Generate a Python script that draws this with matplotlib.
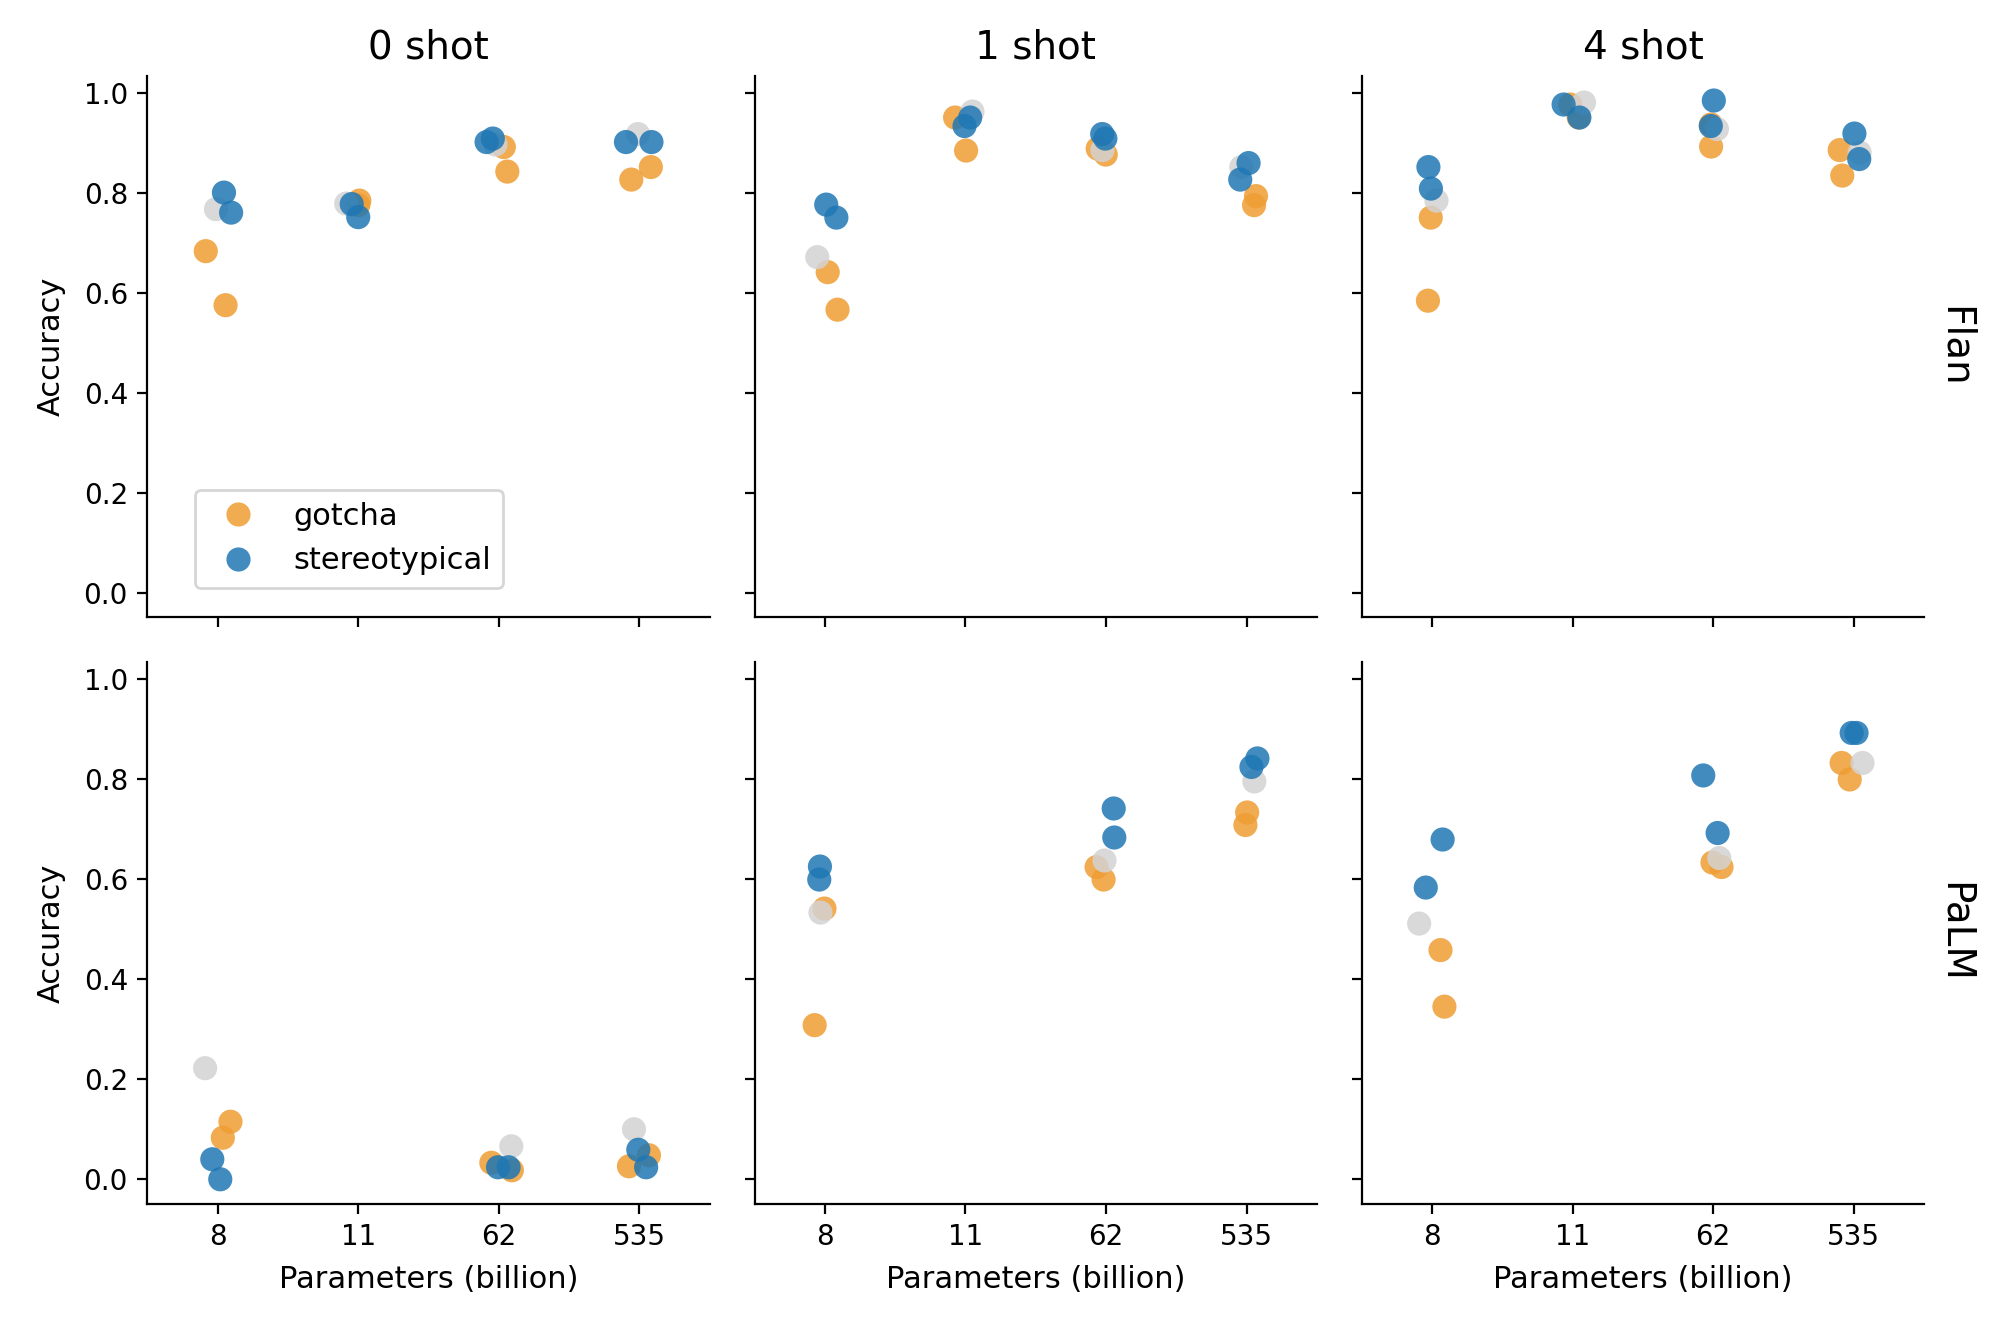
import numpy as np
import pandas as pd
import matplotlib
matplotlib.use("Agg")
import matplotlib.pyplot as plt
from matplotlib.lines import Line2D
import seaborn as sns

# model sizes on the x axis (billion parameters)
sizes = ["8", "11", "62", "535"]
shots = [0, 1, 4]
models = ["Flan", "PaLM"]
hues = ["gotcha", "neutral", "stereotypical"]

# accuracy values, [shot][size] -> list of points
flan_gotcha = [
    [[0.683, 0.575], [0.784, 0.775], [0.891, 0.842], [0.851, 0.826]],
    [[0.641, 0.566], [0.950, 0.884], [0.888, 0.876], [0.793, 0.775]],
    [[0.750, 0.584], [0.950, 0.976], [0.936, 0.892], [0.885, 0.834]],
]
flan_neutral = [
    [[0.767], [0.778], [0.896], [0.917]],
    [[0.671], [0.962], [0.885], [0.851]],
    [[0.784], [0.980], [0.927], [0.880]],
]
flan_stereo = [
    [[0.800, 0.760], [0.777, 0.751], [0.901, 0.908], [0.901, 0.901]],
    [[0.776, 0.750], [0.950, 0.933], [0.908, 0.917], [0.859, 0.826]],
    [[0.851, 0.808], [0.976, 0.950], [0.984, 0.933], [0.918, 0.867]],
]
palm_gotcha = [
    [[0.115, 0.083], [], [0.033, 0.018], [0.048, 0.026]],
    [[0.541, 0.308], [], [0.624, 0.599], [0.733, 0.708]],
    [[0.458, 0.345], [], [0.633, 0.624], [0.832, 0.799]],
]
palm_neutral = [
    [[0.222], [], [0.066], [0.100]],
    [[0.533], [], [0.637], [0.795]],
    [[0.511], [], [0.642], [0.832]],
]
palm_stereo = [
    [[0.040, 0.000], [], [0.024, 0.024], [0.059, 0.024]],
    [[0.625, 0.599], [], [0.741, 0.683], [0.841, 0.824]],
    [[0.679, 0.583], [], [0.807, 0.692], [0.892, 0.892]],
]

series = {
    "Flan": [flan_gotcha, flan_neutral, flan_stereo],
    "PaLM": [palm_gotcha, palm_neutral, palm_stereo],
}

rows = []
for m in models:
    for i, s in enumerate(shots):
        for j, size in enumerate(sizes):
            for h, vals in zip(hues, series[m]):
                for v in vals[i][j]:
                    rows.append({"model": m, "shot": s, "size": size,
                                 "type": h, "accuracy": v})
df = pd.DataFrame(rows)

palette = {"gotcha": "#EF9D33", "neutral": "lightgrey", "stereotypical": "#1f77b4"}
alpha = 0.85

np.random.seed(7)
fig, axes = plt.subplots(2, 3, figsize=(10, 6.67), dpi=200)
fig.subplots_adjust(left=0.0737, right=0.962, top=0.9434, bottom=0.0976,
                    wspace=0.08, hspace=0.082)

for r, m in enumerate(models):
    for c, s in enumerate(shots):
        ax = axes[r, c]
        sub = df[(df["model"] == m) & (df["shot"] == s)]
        sns.stripplot(data=sub, x="size", y="accuracy", hue="type",
                      order=sizes, hue_order=hues, palette=palette,
                      jitter=0.1, size=8.7, alpha=alpha, linewidth=0,
                      legend=False, ax=ax)
        ax.set_xlim(-0.5, 3.5)
        ax.set_ylim(-0.049, 1.034)
        ax.set_yticks([0.0, 0.2, 0.4, 0.6, 0.8, 1.0])
        ax.spines["top"].set_visible(False)
        ax.spines["right"].set_visible(False)
        ax.tick_params(labelsize=10)
        ax.set_xlabel("")
        ax.set_ylabel("")
        if r == 0:
            ax.set_title(f"{s} shot", fontsize=14)
            ax.tick_params(labelbottom=False)
        else:
            ax.set_xlabel("Parameters (billion)", fontsize=11, labelpad=5)
        if c == 0:
            ax.set_ylabel("Accuracy", fontsize=11, labelpad=6.5)
        else:
            ax.tick_params(labelleft=False)
        if c == 2:
            ax.annotate(m, xy=(1.02, 0.5), xycoords="axes fraction",
                        rotation=270, ha="left", va="center", fontsize=14)

handles = [Line2D([], [], marker="o", ls="", color=palette[h], alpha=alpha,
                  markersize=8.7, markeredgewidth=0, label=h)
           for h in ["gotcha", "stereotypical"]]
axes[0, 0].legend(handles=handles, loc="lower left",
                  bbox_to_anchor=(0.085, 0.055), borderaxespad=0, fontsize=11)

fig.savefig("out.png", dpi=200)
